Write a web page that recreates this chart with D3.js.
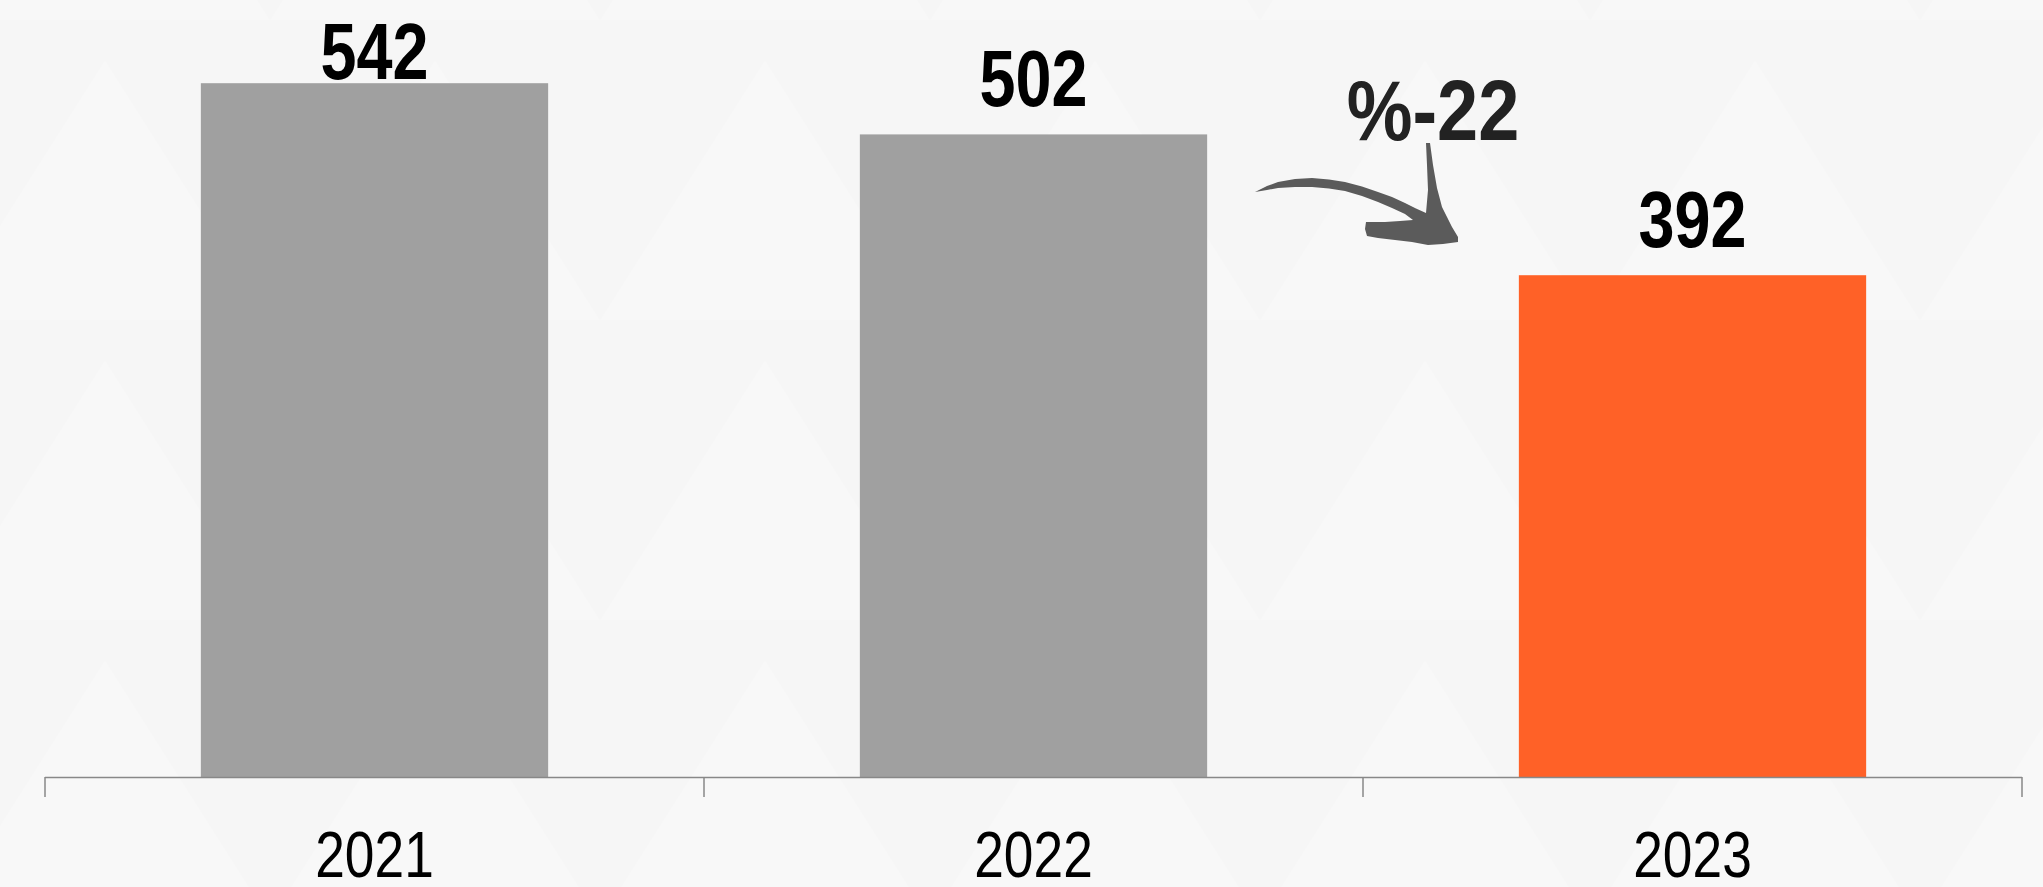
<!DOCTYPE html>
<html>
<head>
<meta charset="utf-8">
<script src="https://cdn.jsdelivr.net/npm/d3@7"></script>
<style>
  html, body { margin: 0; padding: 0; background: #f6f6f6; }
  svg { display: block; }
</style>
</head>
<body>
<div id="chart"></div>
<script>
// data
var years = ['2021', '2022', '2023'];
var values = [542, 502, 392];
var barColors = ['#a0a0a0', '#a0a0a0', '#ff6127'];
var changeLabel = '%-22';

var width = 2043,
    height = 887,
    margin = {top: 0, right: 21, bottom: 110, left: 45};

// narrow look: Liberation Sans squeezed horizontally (like Arial Narrow)
var font = "'Liberation Sans', Arial, sans-serif";
var squeeze = 0.82;

var svg = d3.select('#chart')
    .append('svg')
    .attr('width', width)
    .attr('height', height);

// faint triangle pattern in the background
var defs = svg.append('defs');
var pat = defs.append('pattern')
    .attr('id', 'tri')
    .attr('patternUnits', 'userSpaceOnUse')
    .attr('width', 330)
    .attr('height', 300)
    .attr('patternTransform', 'translate(-60,20)');
pat.append('rect').attr('width', 330).attr('height', 300).attr('fill', '#f6f6f6');
pat.append('path')
    .attr('d', 'M0,300 L165,40 L330,300 Z')
    .attr('fill', '#f8f8f8');

svg.append('rect')
    .attr('width', width)
    .attr('height', height)
    .attr('fill', 'url(#tri)');

var plotBottom = height - margin.bottom; // 777

// scales
var x = d3.scaleBand()
    .domain(years)
    .range([margin.left, width - margin.right])
    .padding(0);

var barFrac = 0.527;

var y = d3.scaleLinear()
    .domain([0, 607])
    .range([plotBottom, 0]);

function narrowAt(px, py, s) {
    return 'translate(' + px + ',' + py + ') scale(' + (s || squeeze) + ',1)';
}

var chart = svg.append('g').attr('class', 'bars');

// bars
chart.selectAll('rect.bar')
    .data(values)
    .enter()
    .append('rect')
    .attr('class', 'bar')
    .attr('x', (d, i) => x(years[i]) + x.bandwidth() * (1 - barFrac) / 2)
    .attr('y', d => y(d))
    .attr('width', x.bandwidth() * barFrac)
    .attr('height', d => plotBottom - y(d))
    .attr('fill', (d, i) => barColors[i]);

// value labels
chart.selectAll('text.value')
    .data(values)
    .enter()
    .append('text')
    .attr('class', 'value')
    .attr('transform', (d, i) => narrowAt(x(years[i]) + x.bandwidth() / 2,
                                          Math.max(y(d) - 28, 79)))
    .attr('text-anchor', 'middle')
    .attr('font-family', font)
    .attr('font-weight', 'bold')
    .attr('font-size', 79)
    .attr('fill', '#000')
    .text(d => d);

// x axis: baseline with ticks at the band edges
var axis = svg.append('g').attr('class', 'x-axis');
var edges = years.map(d => x(d)).concat([x.range()[1]]);

axis.append('line')
    .attr('x1', x.range()[0])
    .attr('x2', x.range()[1])
    .attr('y1', plotBottom + 0.5)
    .attr('y2', plotBottom + 0.5)
    .attr('stroke', '#888')
    .attr('stroke-width', 1.5);

axis.selectAll('line.tick')
    .data(edges)
    .enter()
    .append('line')
    .attr('class', 'tick')
    .attr('x1', d => d)
    .attr('x2', d => d)
    .attr('y1', plotBottom)
    .attr('y2', plotBottom + 20)
    .attr('stroke', '#888')
    .attr('stroke-width', 1.5);

axis.selectAll('text.year')
    .data(years)
    .enter()
    .append('text')
    .attr('class', 'year')
    .attr('transform', d => narrowAt(x(d) + x.bandwidth() / 2, 877))
    .attr('text-anchor', 'middle')
    .attr('font-family', font)
    .attr('font-size', 65)
    .attr('fill', '#000')
    .text(d => d);

// change annotation between 2022 and 2023
var note = svg.append('g').attr('class', 'note');
var ax = x(years[2]); // edge between 2022 and 2023 bands

note.append('text')
    .attr('transform', narrowAt(ax + 70, 140, 0.86))
    .attr('text-anchor', 'middle')
    .attr('font-family', font)
    .attr('font-weight', 'bold')
    .attr('font-size', 86)
    .attr('fill', '#222')
    .text(changeLabel);

// brush-like curved arrow (outline, relative to its tail)
var arrowOutline = [
    [0, 192], [12, 186], [23, 182], [40, 179], [57, 178], [74, 179.5],
    [90, 182], [107, 186.5], [123, 192], [137, 197], [150, 203], [161, 208.5],
    [171, 213], [173, 190], [172, 165], [171, 143], [175, 143], [178, 165],
    [182, 188], [187, 207], [192, 217], [197, 227], [203, 237], [203, 242],
    [188, 244], [173, 245], [157, 242], [140, 240], [123, 238], [112, 236],
    [110, 229], [111, 222], [130, 222], [145, 221], [158, 220], [150, 214],
    [137, 208], [123, 202], [107, 196], [90, 191], [74, 188.5], [57, 187],
    [40, 187], [23, 188], [12, 190]
];

note.append('path')
    .attr('transform', 'translate(' + (ax - 108) + ',0)')
    .attr('d', d3.line()(arrowOutline) + 'Z')
    .attr('fill', '#5b5b5b');
</script>
</body>
</html>
